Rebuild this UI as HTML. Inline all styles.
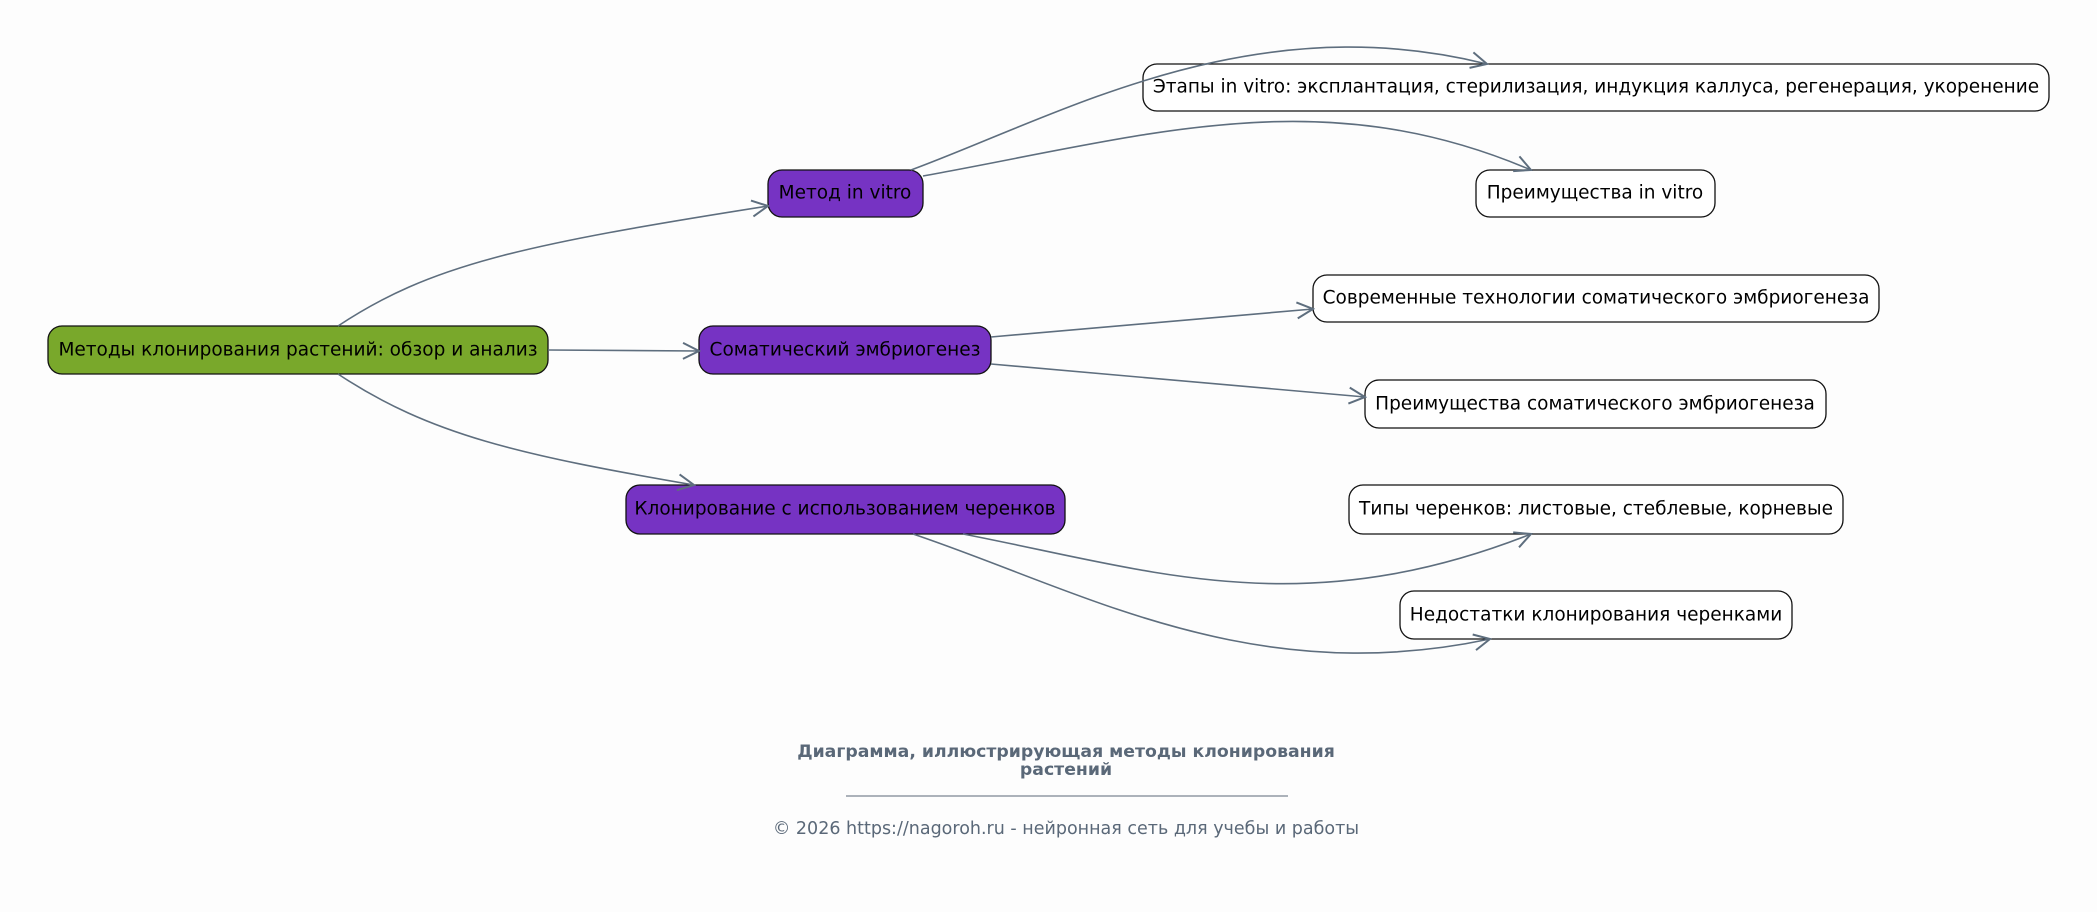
<!DOCTYPE html>
<html><head><meta charset="utf-8"><style>
html,body{margin:0;padding:0;background:#fdfdfd;}
svg{display:block;}
text{font-family:"DejaVu Sans","Liberation Sans",sans-serif;}
</style></head><body>
<svg width="2097" height="912" viewBox="0 0 2097 912" xmlns="http://www.w3.org/2000/svg">
<defs>
<marker id="a" viewBox="0 0 20 20" refX="18" refY="10" markerWidth="20" markerHeight="20" markerUnits="userSpaceOnUse" orient="auto">
<path d="M2,2 L18,10 L2,18" fill="none" stroke="#5e6e7e" stroke-width="2"/>
</marker>
</defs>
<rect width="2097" height="912" fill="#fdfdfd"/>
<g stroke="#111" stroke-width="1.3">
<rect x="48" y="326" width="500" height="48" rx="14" fill="#79a82b"/>
<rect x="768" y="170" width="155" height="47" rx="14" fill="#7633c3"/>
<rect x="699" y="326" width="292" height="48" rx="14" fill="#7633c3"/>
<rect x="626" y="485" width="439" height="49" rx="14" fill="#7633c3"/>
<rect x="1143" y="64" width="906" height="47" rx="14" fill="#fff"/>
<rect x="1476" y="170" width="239" height="47" rx="14" fill="#fff"/>
<rect x="1313" y="275" width="566" height="47" rx="14" fill="#fff"/>
<rect x="1365" y="380" width="461" height="48" rx="14" fill="#fff"/>
<rect x="1349" y="485" width="494" height="49" rx="14" fill="#fff"/>
<rect x="1400" y="591" width="392" height="48" rx="14" fill="#fff"/>
</g>
<g fill="none" stroke="#5e6e7e" stroke-width="1.6" marker-end="url(#a)">
<path d="M338,326 C430,265 520,245 768,206"/>
<path d="M548,350 L699,351"/>
<path d="M338,374 C430,435 520,455 694,485"/>
<path d="M911,170 C1060,115 1250,5 1487,64"/>
<path d="M923,176 C1150,135 1320,80 1531,170"/>
<path d="M963,534 C1150,570 1300,625 1531,534"/>
<path d="M913,534 C1080,590 1250,690 1490,639"/>
<path d="M991,337 L1313,309"/>
<path d="M991,364 L1365,397"/>
</g>
<g font-size="18.5" fill="#000" text-anchor="middle" dominant-baseline="central">
<text x="298" y="350">Методы клонирования растений: обзор и анализ</text>
<text x="845" y="193">Метод in vitro</text>
<text x="845" y="350">Соматический эмбриогенез</text>
<text x="845" y="509">Клонирование с использованием черенков</text>
<text x="1596" y="87">Этапы in vitro: эксплантация, стерилизация, индукция каллуса, регенерация, укоренение</text>
<text x="1595" y="193">Преимущества in vitro</text>
<text x="1596" y="298">Современные технологии соматического эмбриогенеза</text>
<text x="1595" y="404">Преимущества соматического эмбриогенеза</text>
<text x="1596" y="509">Типы черенков: листовые, стеблевые, корневые</text>
<text x="1596" y="615">Недостатки клонирования черенками</text>
</g>
<g fill="#5a6878" text-anchor="middle">
<text x="1066" y="757" font-size="17.3" font-weight="bold">Диаграмма, иллюстрирующая методы клонирования</text>
<text x="1066" y="775" font-size="17.3" font-weight="bold">растений</text>
<line x1="846" y1="796" x2="1288" y2="796" stroke="#5a6878" stroke-width="1"/>
<text x="1066" y="834" font-size="17.5">© 2026 https://nagoroh.ru - нейронная сеть для учебы и работы</text>
</g>
</svg>
</body></html>
